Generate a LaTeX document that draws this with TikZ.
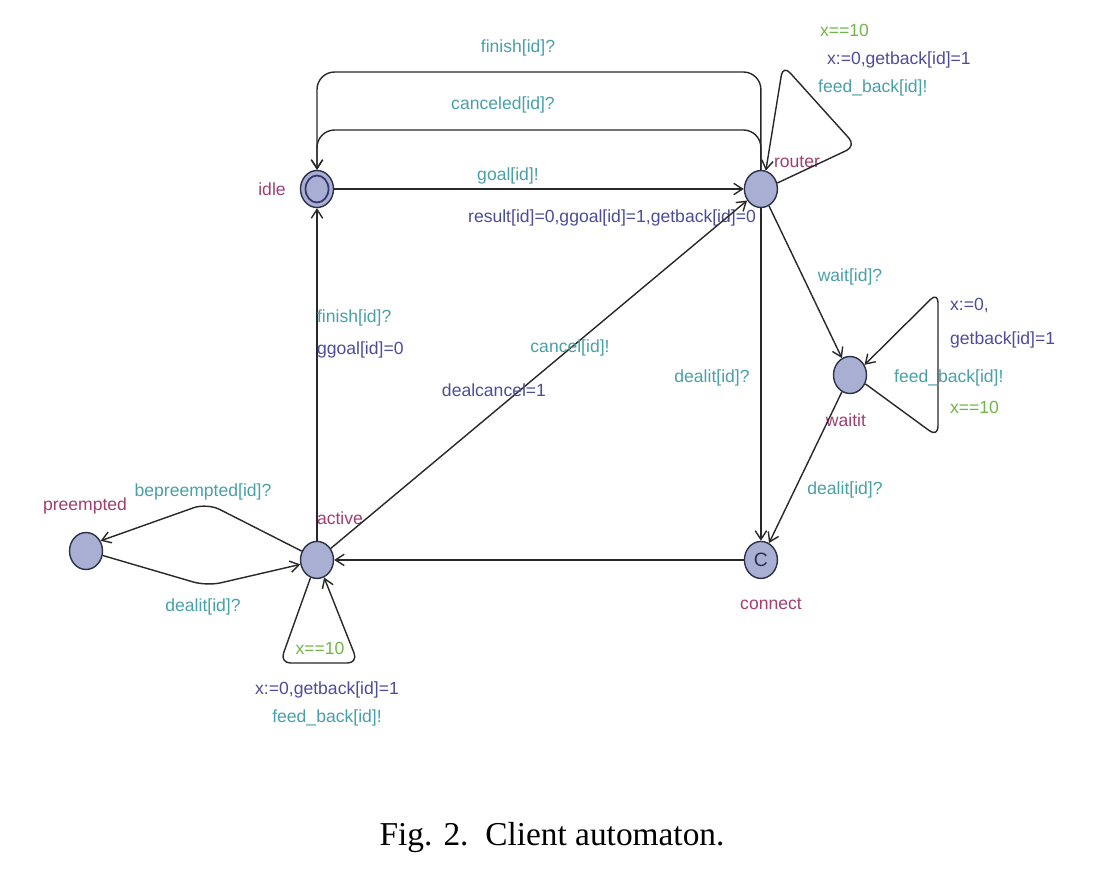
\documentclass[tikz,border=0pt]{standalone}
\usepackage{fontspec}
\setmainfont{Liberation Serif}
\newfontfamily\uppaal{Liberation Sans}
\usetikzlibrary{shapes.geometric,arrows.meta}

\tikzstyle{loc} = [draw, ellipse, line width=0.8pt, minimum width=0.66cm, minimum height=0.74cm, inner sep=0pt]
\tikzstyle{lbl} = [font=\uppaal\fontsize{10}{12}\selectfont, inner sep=1pt]
\tikzstyle{edge} = [->, line width=0.8pt]

\begin{document}
\begin{tikzpicture} [x=0.02cm, y=-0.02cm,
                     >={Straight Barb[length=5pt,width=6.5pt]}]

\definecolor{colN}{RGB}{160,62,112}
\definecolor{colS}{RGB}{72,160,168}
\definecolor{colU}{RGB}{76,76,156}
\definecolor{colG}{RGB}{112,182,72}
\definecolor{fillL}{RGB}{168,175,210}
\definecolor{drawL}{RGB}{44,48,72}
\definecolor{colE}{RGB}{40,40,40}

\useasboundingbox (0,0) rectangle (1099,872);

% locations
\node[loc,draw=drawL,fill=fillL]
      (idle) at (317,189) {};

\node[ellipse,draw=colU!70!black,line width=1pt,
      minimum width=0.46cm,minimum height=0.54cm]
      (idlein) at (idle) {};

\node[loc,draw=drawL,fill=fillL,
      right of=idle,node distance=8.88cm]
      (router) {};

\node[loc,draw=drawL,fill=fillL,
      below of=idle,node distance=7.42cm]
      (active) {};

\node[loc,draw=drawL,fill=fillL,
      right of=active,node distance=8.88cm]
      (connect) {\uppaal\fontsize{11}{12}\selectfont\textcolor{drawL}{C}};

\node[loc,draw=drawL,fill=fillL]
      (waitit) at (850,375) {};

\node[loc,draw=drawL,fill=fillL]
      (preempted) at (86,551) {};

% location names
\node[lbl,colN,left of=idle,node distance=0.9cm] (idleT) {idle};
\node[lbl,colN] (routerT) at (797,162) {router};
\node[lbl,colN] (activeT) at (340,518) {active};
\node[lbl,colN] (connectT) at (771,604) {connect};
\node[lbl,colN] (waititT) at (846,420) {waitit};
\node[lbl,colN] (preemptedT) at (85,506) {preempted};

% transitions
\draw[edge,colE]
     (idle) -- (router);
\node[lbl,colS] (goalS) at (508,176) {goal[id]!};
\node[lbl,colU] (goalU) at (612,218) {result[id]=0,ggoal[id]=1,getback[id]=0};

\draw[edge,colE,rounded corners=10]
     (router.north) |- (518,72) -| (idle.north);
\node[lbl,colS] (finishS) at (518,48) {finish[id]?};

\draw[edge,colE,rounded corners=10]
     (router.north) |- (503,130) -| (idle.north);
\node[lbl,colS] (canceledS) at (503,105) {canceled[id]?};

\draw[edge,colE,rounded corners=6]
     (router.20) -- (856,146) -- (783,65) -- (router.75);
\node[lbl,colG,anchor=west] (rloopG) at (818,30) {x==10};
\node[lbl,colU,anchor=west] (rloopU) at (825,60) {x:=0,getback[id]=1};
\node[lbl,colS,anchor=west] (rloopS) at (816,88) {feed\_back[id]!};

\draw[edge,colE]
     (router) -- (waitit);
\node[lbl,colS] (waitS) at (850,277) {wait[id]?};

\draw[edge,colE,rounded corners=6]
     (waitit.-30) -- (938,437) -- (938,292) -- (waitit.35);
\node[lbl,colU,anchor=west] (wloopU1) at (948,305) {x:=0,};
\node[lbl,colU,anchor=west] (wloopU2) at (948,340) {getback[id]=1};
\node[lbl,colS,anchor=west] (wloopS) at (892,378) {feed\_back[id]!};
\node[lbl,colG,anchor=west] (wloopG) at (948,407) {x==10};

\draw[edge,colE]
     (waitit) -- (connect);
\node[lbl,colS] (wdealS) at (845,490) {dealit[id]?};

\draw[edge,colE]
     (router) -- (connect);
\node[lbl,colS] (rdealS) at (712,378) {dealit[id]?};

\draw[edge,colE]
     (connect) -- (active);

\draw[edge,colE]
     (active) -- (idle);
\node[lbl,colS,anchor=west] (afinishS) at (315,318) {finish[id]?};
\node[lbl,colU,anchor=west] (afinishU) at (315,350) {ggoal[id]=0};

\draw[edge,colE]
     (active) -- (router);
\node[lbl,colS] (cancelS) at (570,348) {cancel[id]!};
\node[lbl,colU] (cancelU) at (494,390) {dealcancel=1};

\draw[edge,colE,rounded corners=8]
     (active.150) -- (207,503) -- (preempted.35);
\node[lbl,colS] (bepreS) at (203,492) {bepreempted[id]?};

\draw[edge,colE,rounded corners=8]
     (preempted.-15) -- (207,586) -- (active.195);
\node[lbl,colS] (pdealS) at (203,607) {dealit[id]?};

\draw[edge,colE,rounded corners=6]
     (active.-110) -- (280,663) -- (358,663) -- (active.-68);
\node[lbl,colG] (aloopG) at (320,648) {x==10};
\node[lbl,colU] (aloopU) at (327,690) {x:=0,getback[id]=1};
\node[lbl,colS] (aloopS) at (327,718) {feed\_back[id]!};

% caption
\node[font=\fontsize{19}{22}\selectfont] (caption) at (552,838) {Fig. 2.\ \ Client automaton.};

\end{tikzpicture}
\end{document}
